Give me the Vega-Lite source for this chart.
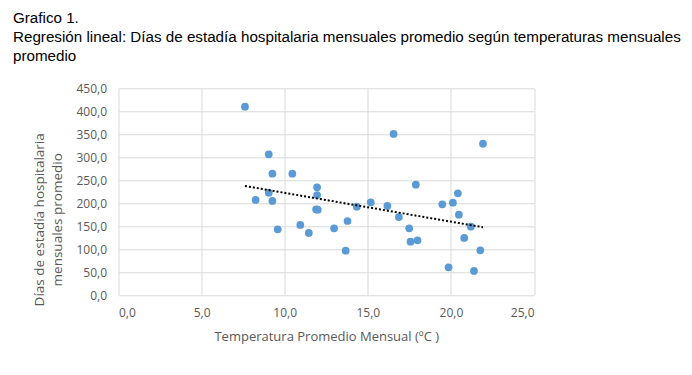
{
  "$schema": "https://vega.github.io/schema/vega-lite/v6.json",
  "width": 415.5,
  "height": 206.7,
  "autosize": "none",
  "padding": {"left": 118.5, "top": 88.3, "right": 158, "bottom": 80},
  "background": "white",
  "title": {
    "text": ["Grafico 1.", "Regresión lineal: Días de estadía hospitalaria mensuales promedio según temperaturas mensuales", "promedio"],
    "anchor": "start",
    "frame": "group",
    "dx": -105.5,
    "font": "Liberation Sans",
    "fontSize": 15.2,
    "fontWeight": "normal",
    "color": "black",
    "lineHeight": 19,
    "offset": 18
  },
  "config": {
    "view": {"stroke": null},
    "axis": {
      "grid": true,
      "gridColor": "#D9D9D9",
      "gridWidth": 1,
      "ticks": false,
      "domain": false,
      "labelFont": "Open Sans",
      "labelFontSize": 12,
      "labelColor": "#595959",
      "titleFont": "Open Sans",
      "titleFontSize": 13,
      "titleColor": "#595959",
      "titleFontWeight": "normal"
    }
  },
  "data": {
    "values": [
      {"temp": 7.61, "dias": 410.1},
      {"temp": 9.04, "dias": 306.3},
      {"temp": 9.26, "dias": 264.2},
      {"temp": 10.46, "dias": 264.2},
      {"temp": 9.04, "dias": 222.8},
      {"temp": 8.25, "dias": 206.9},
      {"temp": 9.26, "dias": 204.7},
      {"temp": 9.58, "dias": 143.0},
      {"temp": 10.94, "dias": 152.4},
      {"temp": 11.45, "dias": 135.0},
      {"temp": 11.95, "dias": 234.4},
      {"temp": 11.95, "dias": 217.7},
      {"temp": 11.89, "dias": 186.5},
      {"temp": 11.99, "dias": 185.8},
      {"temp": 12.97, "dias": 145.2},
      {"temp": 13.67, "dias": 96.5},
      {"temp": 13.78, "dias": 161.1},
      {"temp": 14.34, "dias": 192.3},
      {"temp": 15.18, "dias": 201.8},
      {"temp": 16.18, "dias": 193.8},
      {"temp": 16.55, "dias": 350.6},
      {"temp": 16.87, "dias": 169.8},
      {"temp": 17.49, "dias": 145.2},
      {"temp": 17.57, "dias": 116.1},
      {"temp": 17.99, "dias": 119.0},
      {"temp": 17.89, "dias": 240.2},
      {"temp": 19.48, "dias": 197.4},
      {"temp": 20.12, "dias": 201.0},
      {"temp": 20.42, "dias": 221.4},
      {"temp": 20.48, "dias": 174.9},
      {"temp": 19.86, "dias": 60.2},
      {"temp": 20.80, "dias": 124.1},
      {"temp": 21.20, "dias": 148.8},
      {"temp": 21.39, "dias": 52.3},
      {"temp": 21.77, "dias": 97.3},
      {"temp": 21.93, "dias": 329.5}
    ]
  },
  "encoding": {
    "x": {
      "field": "temp",
      "type": "quantitative",
      "scale": {"domain": [0, 25], "nice": false, "zero": false},
      "axis": {
        "title": "Temperatura Promedio Mensual (ºC )",
        "values": [0, 5, 10, 15, 20, 25],
        "labelExpr": "replace(format(datum.value, '.1f'), '.', ',')",
        "labelPadding": 12,
        "titlePadding": 12
      }
    },
    "y": {
      "field": "dias",
      "type": "quantitative",
      "scale": {"domain": [0, 450], "nice": false},
      "axis": {
        "title": ["Días de estadía hospitalaria", "mensuales promedio"],
        "values": [0, 50, 100, 150, 200, 250, 300, 350, 400, 450],
        "labelExpr": "replace(format(datum.value, '.1f'), '.', ',')",
        "labelPadding": 12,
        "titleFontSize": 13.5,
        "titleLineHeight": 18.7,
        "titleBaseline": "alphabetic",
        "titleAngle": -90,
        "titleX": -75.5,
        "titleY": 131
      }
    }
  },
  "layer": [
    {
      "mark": {"type": "point", "filled": true, "color": "#5B9BD5", "opacity": 1, "size": 60}
    },
    {
      "transform": [{"regression": "dias", "on": "temp", "extent": [7.61, 21.93]}],
      "mark": {"type": "line", "color": "black", "strokeWidth": 2, "strokeDash": [2, 2]}
    }
  ]
}
